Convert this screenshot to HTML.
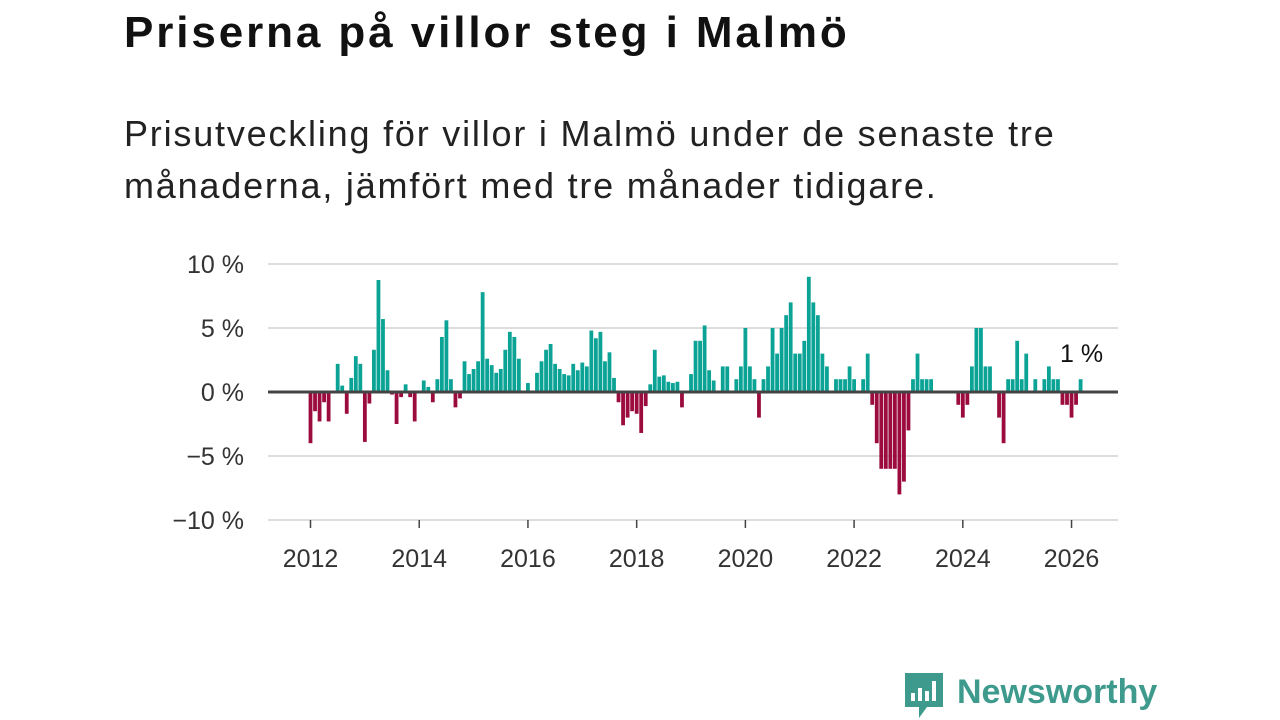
<!DOCTYPE html>
<html><head><meta charset="utf-8">
<style>
body{margin:0;width:1280px;height:720px;background:#fff;overflow:hidden;font-family:"Liberation Sans",sans-serif;}
#title{position:absolute;left:124px;top:8px;font-size:44px;letter-spacing:2.9px;font-weight:bold;color:#111;margin:0;}
#sub{position:absolute;left:124px;top:108px;font-size:36px;letter-spacing:1.8px;line-height:52px;color:#222;margin:0;width:960px;}
svg{position:absolute;left:0;top:0;}
</style></head><body>
<h1 id="title">Priserna på villor steg i Malmö</h1>
<p id="sub">Prisutveckling för villor i Malmö under de senaste tre månaderna, jämfört med tre månader tidigare.</p>
<svg id="chart" width="1280" height="720"></svg>
<script>
const startYear = 2012;
const values = [
-4,-1.5,-2.3,-0.8,-2.3,0,2.2,0.5,-1.7,1.1,2.8,2.2,
-3.9,-0.9,3.3,8.75,5.7,1.7,-0.2,-2.5,-0.4,0.6,-0.4,-2.3,
0,0.9,0.4,-0.8,1,4.3,5.6,1,-1.2,-0.5,2.4,1.4,
1.8,2.4,7.8,2.6,2.1,1.5,1.8,3.3,4.7,4.3,2.6,0,
0.7,0.1,1.5,2.4,3.3,3.75,2.2,1.8,1.4,1.3,2.2,1.7,
2.3,2,4.8,4.2,4.7,2.4,3.1,1.1,-0.8,-2.6,-2,-1.5,
-1.7,-3.2,-1.1,0.6,3.3,1.2,1.3,0.8,0.7,0.8,-1.2,0,
1.4,4,4,5.2,1.7,0.9,0,2,2,0,1,2,
5,2,1,-2,1,2,5,3,5,6,7,3,
3,4,9,7,6,3,2,0,1,1,1,2,
1,0,1,3,-1,-4,-6,-6,-6,-6,-8,-7,
-3,1,3,1,1,1,0,0,0,0,0,-1,
-2,-1,2,5,5,2,2,0,-2,-4,1,1,
4,1,3,0,1,0,1,2,1,1,-1,-1,
-2,-1,1
];
const yTicks = [10,5,0,-5,-10];
const xTicks = [2012,2014,2016,2018,2020,2022,2024,2026];
const lastLabel = "1 %";

const svg = document.getElementById('chart');
const NS = 'http://www.w3.org/2000/svg';
const x0 = 310.5, pxYear = 54.36;
const xScale = m => x0 + m * pxYear / 12;
const yScale = v => 392 - v * 12.8;
function mk(tag, attrs){const e=document.createElementNS(NS,tag);for(const k in attrs)e.setAttribute(k,attrs[k]);svg.appendChild(e);return e;}

yTicks.forEach(t=>{
  const g = mk('line',{x1:268,x2:1118,y1:yScale(t),y2:yScale(t),stroke:t===0?'#444':'#ddd','stroke-width':t===0?3:2});
  
  
  const lb = mk('text',{x:244,y:yScale(t)+9,'text-anchor':'end','font-size':25,fill:'#333','font-family':'Liberation Sans, sans-serif'});
  lb.textContent = (t<0?'\u2212'+(-t):t)+' %';
  
  
});
xTicks.forEach(yr=>{
  const x = xScale((yr-startYear)*12);
  const tk = mk('line',{x1:x,x2:x,y1:520,y2:528,stroke:'#444','stroke-width':1.5});
  
  
  const lb = mk('text',{x:x,y:567,'text-anchor':'middle','font-size':25,fill:'#333','font-family':'Liberation Sans, sans-serif'});
  lb.textContent = yr;
  
  
});
values.forEach((v,i)=>{
  if(v===0) return;
  const x = xScale(i);
  const y = v>0?yScale(v):yScale(0);
  const r = mk('rect',{x:x-1.9,y:y,width:3.8,height:Math.abs(yScale(v)-yScale(0)),fill:v>0?'#0aa395':'#9b0b3e'});
  
  
});
mk('line',{x1:268,x2:1118,y1:392,y2:392,stroke:'#444','stroke-width':3});
const ll = mk('text',{x:xScale(values.length-1)+1,y:yScale(values[values.length-1])-17,'text-anchor':'middle','font-size':25,fill:'#111','font-family':'Liberation Sans, sans-serif'});
ll.textContent = lastLabel;


</script>
<svg width="1280" height="720">
  <path d="M905 673 h38 v34 h-16 l-8 11 v-11 h-14 z" fill="#3d9a8c"/>
  <rect x="911" y="693" width="4" height="8" fill="#fff"/>
  <rect x="918" y="688" width="4" height="13" fill="#fff"/>
  <rect x="925" y="691" width="4" height="10" fill="#fff"/>
  <rect x="932" y="681" width="4" height="20" fill="#fff"/>
  <text x="957" y="703" font-size="34" font-weight="bold" fill="#3d9a8c" font-family="Liberation Sans, sans-serif">Newsworthy</text>
</svg>
</body></html>
